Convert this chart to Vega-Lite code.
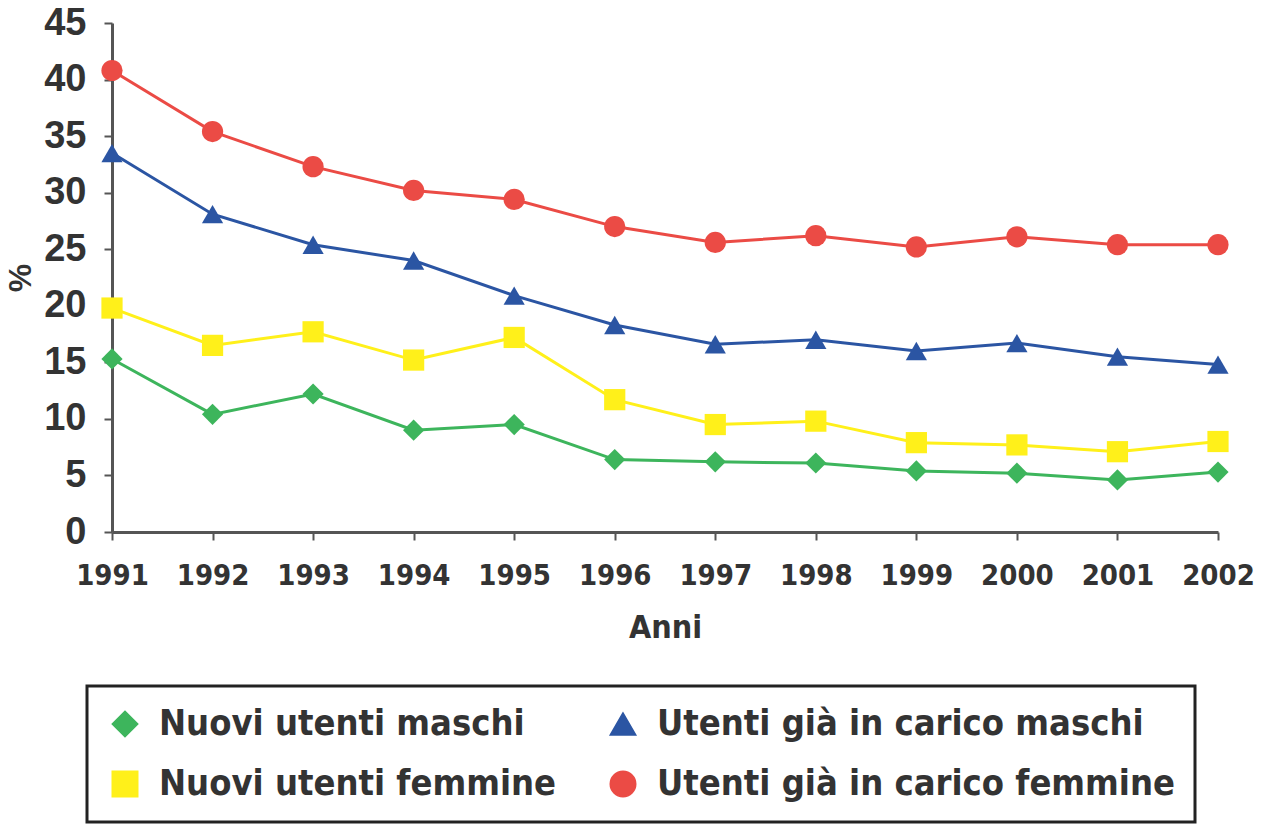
{
  "$schema": "https://vega.github.io/schema/vega-lite/v6.json",
  "width": 1106,
  "height": 509,
  "autosize": "none",
  "padding": {"left": 112, "top": 23, "right": 50, "bottom": 294},
  "background": "white",
  "config": {
    "view": {"stroke": null},
    "axis": {"grid": false, "domainColor": "#555", "domainWidth": 3, "tickColor": "#555", "tickWidth": 2, "tickSize": 8, "labelColor": "#333", "titleColor": "#333", "labelFontWeight": "bold", "titleFontWeight": "bold"},
    "legend": {"labelFont": "DejaVu Sans Condensed", "labelFontSize": 36, "labelFontWeight": "bold", "labelColor": "#333", "labelLimit": 700, "symbolSize": 650, "symbolOffset": 0, "labelOffset": 16, "columnPadding": 48, "rowPadding": 24, "strokeColor": "#222", "strokeWidth": 3, "fillColor": "white", "padding": 20}
  },
  "data": {"values": [
    {"anno": 1991, "serie": "Nuovi utenti maschi", "v": 15.3},
    {"anno": 1992, "serie": "Nuovi utenti maschi", "v": 10.4},
    {"anno": 1993, "serie": "Nuovi utenti maschi", "v": 12.2},
    {"anno": 1994, "serie": "Nuovi utenti maschi", "v": 9.0},
    {"anno": 1995, "serie": "Nuovi utenti maschi", "v": 9.5},
    {"anno": 1996, "serie": "Nuovi utenti maschi", "v": 6.4},
    {"anno": 1997, "serie": "Nuovi utenti maschi", "v": 6.2},
    {"anno": 1998, "serie": "Nuovi utenti maschi", "v": 6.1},
    {"anno": 1999, "serie": "Nuovi utenti maschi", "v": 5.4},
    {"anno": 2000, "serie": "Nuovi utenti maschi", "v": 5.2},
    {"anno": 2001, "serie": "Nuovi utenti maschi", "v": 4.6},
    {"anno": 2002, "serie": "Nuovi utenti maschi", "v": 5.3},
    {"anno": 1991, "serie": "Nuovi utenti femmine", "v": 19.8},
    {"anno": 1992, "serie": "Nuovi utenti femmine", "v": 16.5},
    {"anno": 1993, "serie": "Nuovi utenti femmine", "v": 17.7},
    {"anno": 1994, "serie": "Nuovi utenti femmine", "v": 15.2},
    {"anno": 1995, "serie": "Nuovi utenti femmine", "v": 17.2},
    {"anno": 1996, "serie": "Nuovi utenti femmine", "v": 11.7},
    {"anno": 1997, "serie": "Nuovi utenti femmine", "v": 9.5},
    {"anno": 1998, "serie": "Nuovi utenti femmine", "v": 9.8},
    {"anno": 1999, "serie": "Nuovi utenti femmine", "v": 7.9},
    {"anno": 2000, "serie": "Nuovi utenti femmine", "v": 7.7},
    {"anno": 2001, "serie": "Nuovi utenti femmine", "v": 7.1},
    {"anno": 2002, "serie": "Nuovi utenti femmine", "v": 8.0},
    {"anno": 1991, "serie": "Utenti già in carico maschi", "v": 33.5},
    {"anno": 1992, "serie": "Utenti già in carico maschi", "v": 28.1},
    {"anno": 1993, "serie": "Utenti già in carico maschi", "v": 25.4},
    {"anno": 1994, "serie": "Utenti già in carico maschi", "v": 24.0},
    {"anno": 1995, "serie": "Utenti già in carico maschi", "v": 20.9},
    {"anno": 1996, "serie": "Utenti già in carico maschi", "v": 18.3},
    {"anno": 1997, "serie": "Utenti già in carico maschi", "v": 16.6},
    {"anno": 1998, "serie": "Utenti già in carico maschi", "v": 17.0},
    {"anno": 1999, "serie": "Utenti già in carico maschi", "v": 16.0},
    {"anno": 2000, "serie": "Utenti già in carico maschi", "v": 16.7},
    {"anno": 2001, "serie": "Utenti già in carico maschi", "v": 15.5},
    {"anno": 2002, "serie": "Utenti già in carico maschi", "v": 14.8},
    {"anno": 1991, "serie": "Utenti già in carico femmine", "v": 40.8},
    {"anno": 1992, "serie": "Utenti già in carico femmine", "v": 35.4},
    {"anno": 1993, "serie": "Utenti già in carico femmine", "v": 32.3},
    {"anno": 1994, "serie": "Utenti già in carico femmine", "v": 30.2},
    {"anno": 1995, "serie": "Utenti già in carico femmine", "v": 29.4},
    {"anno": 1996, "serie": "Utenti già in carico femmine", "v": 27.0},
    {"anno": 1997, "serie": "Utenti già in carico femmine", "v": 25.6},
    {"anno": 1998, "serie": "Utenti già in carico femmine", "v": 26.2},
    {"anno": 1999, "serie": "Utenti già in carico femmine", "v": 25.2},
    {"anno": 2000, "serie": "Utenti già in carico femmine", "v": 26.1},
    {"anno": 2001, "serie": "Utenti già in carico femmine", "v": 25.4},
    {"anno": 2002, "serie": "Utenti già in carico femmine", "v": 25.4}
  ]},
  "encoding": {
    "x": {"field": "anno", "type": "quantitative", "scale": {"domain": [1991, 2002], "nice": false, "zero": false},
      "axis": {"values": [1991,1992,1993,1994,1995,1996,1997,1998,1999,2000,2001,2002], "format": "d", "title": "Anni", "labelFont": "DejaVu Sans Condensed", "labelFontSize": 29, "labelPadding": 21, "titleFont": "DejaVu Sans Condensed", "titleFontSize": 32, "titlePadding": 22, "labelFlush": false, "labelOverlap": false}},
    "y": {"field": "v", "type": "quantitative", "scale": {"domain": [0, 45], "nice": false},
      "axis": {"values": [0,5,10,15,20,25,30,35,40,45], "title": "%", "labelFont": "Liberation Sans", "labelFontSize": 38, "labelPadding": 18, "titleFont": "Liberation Sans", "titleFontSize": 32, "titlePadding": 6, "labelFlush": false}},
    "color": {"field": "serie", "type": "nominal",
      "scale": {"domain": ["Nuovi utenti maschi", "Nuovi utenti femmine", "Utenti già in carico maschi", "Utenti già in carico femmine"],
        "range": ["#3db55c", "#fff01a", "#2b55a3", "#eb4b45"]},
      "legend": {"orient": "none", "legendX": -25, "legendY": 663, "columns": 2, "title": null}}
  },
  "layer": [
    {"mark": {"type": "line", "strokeWidth": 3}},
    {"mark": {"type": "point", "filled": true, "opacity": 1, "size": 450},
      "encoding": {
        "shape": {"field": "serie", "type": "nominal", "scale": {"domain": ["Nuovi utenti maschi", "Nuovi utenti femmine", "Utenti già in carico maschi", "Utenti già in carico femmine"], "range": ["diamond", "square", "triangle-up", "circle"]},
          "legend": {"orient": "none", "legendX": -25, "legendY": 663, "columns": 2, "title": null}}
      }}
  ]
}
